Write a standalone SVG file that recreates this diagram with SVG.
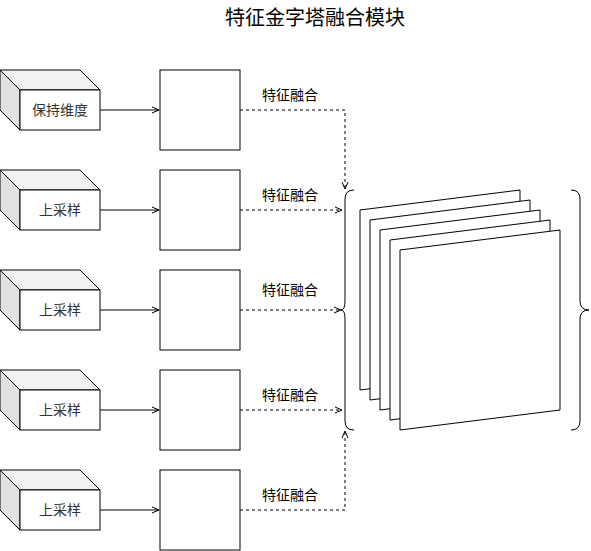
<svg xmlns="http://www.w3.org/2000/svg" width="591" height="551" viewBox="0 0 591 551">
<defs>
<style>
.t{font-family:"Liberation Sans","Noto Sans CJK SC",sans-serif;text-anchor:middle;}
.title{font-size:20px;fill:#000;}
.lbl{font-size:14px;fill:#000;}
.cl{font-size:14px;fill:#333;}
.ln{fill:none;stroke:#000;stroke-width:1;}
.dash{fill:none;stroke:#000;stroke-width:1;stroke-dasharray:3,3;}
.box{fill:#fff;stroke:#000;stroke-width:1;}
.top{fill:#f2f2f2;stroke:#000;stroke-width:1;}
.side{fill:#e1e1e1;stroke:#000;stroke-width:1;}
.sheet{fill:#fff;stroke:#000;stroke-width:1;}
</style>
<marker id="ar" markerWidth="10" markerHeight="10" refX="8" refY="4" orient="auto" markerUnits="userSpaceOnUse">
<path d="M1,1 L8,4 L1,7" fill="none" stroke="#000" stroke-width="1"/>
</marker>
</defs>
<rect width="591" height="551" fill="#fff"/>
<text class="t title" x="315" y="25">特征金字塔融合模块</text>

<g id="cube1">
<polygon class="top" points="0,70 80,70 100,90 20,90"/>
<polygon class="side" points="0,70 20,90 20,130 0,110"/>
<rect class="box" x="20" y="90" width="80" height="40"/>
<text class="t cl" x="60" y="115">保持维度</text>
</g>
<g id="cube2">
<polygon class="top" points="0,170 80,170 100,190 20,190"/>
<polygon class="side" points="0,170 20,190 20,230 0,210"/>
<rect class="box" x="20" y="190" width="80" height="40"/>
<text class="t cl" x="60" y="215">上采样</text>
</g>
<g id="cube3">
<polygon class="top" points="0,270 80,270 100,290 20,290"/>
<polygon class="side" points="0,270 20,290 20,330 0,310"/>
<rect class="box" x="20" y="290" width="80" height="40"/>
<text class="t cl" x="60" y="315">上采样</text>
</g>
<g id="cube4">
<polygon class="top" points="0,370 80,370 100,390 20,390"/>
<polygon class="side" points="0,370 20,390 20,430 0,410"/>
<rect class="box" x="20" y="390" width="80" height="40"/>
<text class="t cl" x="60" y="415">上采样</text>
</g>
<g id="cube5">
<polygon class="top" points="0,470 80,470 100,490 20,490"/>
<polygon class="side" points="0,470 20,490 20,530 0,510"/>
<rect class="box" x="20" y="490" width="80" height="40"/>
<text class="t cl" x="60" y="515">上采样</text>
</g>

<g id="box1"><rect class="box" x="160" y="70" width="80" height="80"/></g>
<g id="box2"><rect class="box" x="160" y="170" width="80" height="80"/></g>
<g id="box3"><rect class="box" x="160" y="270" width="80" height="80"/></g>
<g id="box4"><rect class="box" x="160" y="370" width="80" height="80"/></g>
<g id="box5"><rect class="box" x="160" y="470" width="80" height="80"/></g>

<g id="sheets">
<polygon class="sheet" points="360,210 520,190 520,370 360,390"/>
<polygon class="sheet" points="370,220 530,200 530,380 370,400"/>
<polygon class="sheet" points="380,230 540,210 540,390 380,410"/>
<polygon class="sheet" points="390,240 550,220 550,400 390,420"/>
<polygon class="sheet" points="400,250 560,230 560,410 400,430"/>
</g>

<g id="braceLeft">
<path class="ln" d="M354,190 Q345,190 345,199 L345,301 Q345,310 341,310 Q345,310 345,319 L345,421 Q345,430 354,430"/>
</g>
<g id="braceRight">
<path class="ln" d="M571,190 Q580,190 580,199 L580,301 Q580,310 589,310 Q580,310 580,319 L580,421 Q580,430 571,430"/>
</g>

<g id="connectors">
<line class="ln" x1="100" y1="110" x2="159" y2="110" marker-end="url(#ar)"/>
<line class="ln" x1="100" y1="210" x2="159" y2="210" marker-end="url(#ar)"/>
<line class="ln" x1="100" y1="310" x2="159" y2="310" marker-end="url(#ar)"/>
<line class="ln" x1="100" y1="410" x2="159" y2="410" marker-end="url(#ar)"/>
<line class="ln" x1="100" y1="510" x2="159" y2="510" marker-end="url(#ar)"/>
<polyline class="dash" points="240,110 345,110 345,189" marker-end="url(#ar)"/>
<line class="dash" x1="240" y1="210" x2="342" y2="210" marker-end="url(#ar)"/>
<line class="dash" x1="240" y1="310" x2="341" y2="310" marker-end="url(#ar)"/>
<line class="dash" x1="240" y1="410" x2="342" y2="410" marker-end="url(#ar)"/>
<polyline class="dash" points="240,510 345,510 345,431" marker-end="url(#ar)"/>
<text class="t lbl" x="290" y="100">特征融合</text>
<text class="t lbl" x="290" y="200">特征融合</text>
<text class="t lbl" x="290" y="295">特征融合</text>
<text class="t lbl" x="290" y="400">特征融合</text>
<text class="t lbl" x="290" y="500">特征融合</text>
</g>
</svg>
